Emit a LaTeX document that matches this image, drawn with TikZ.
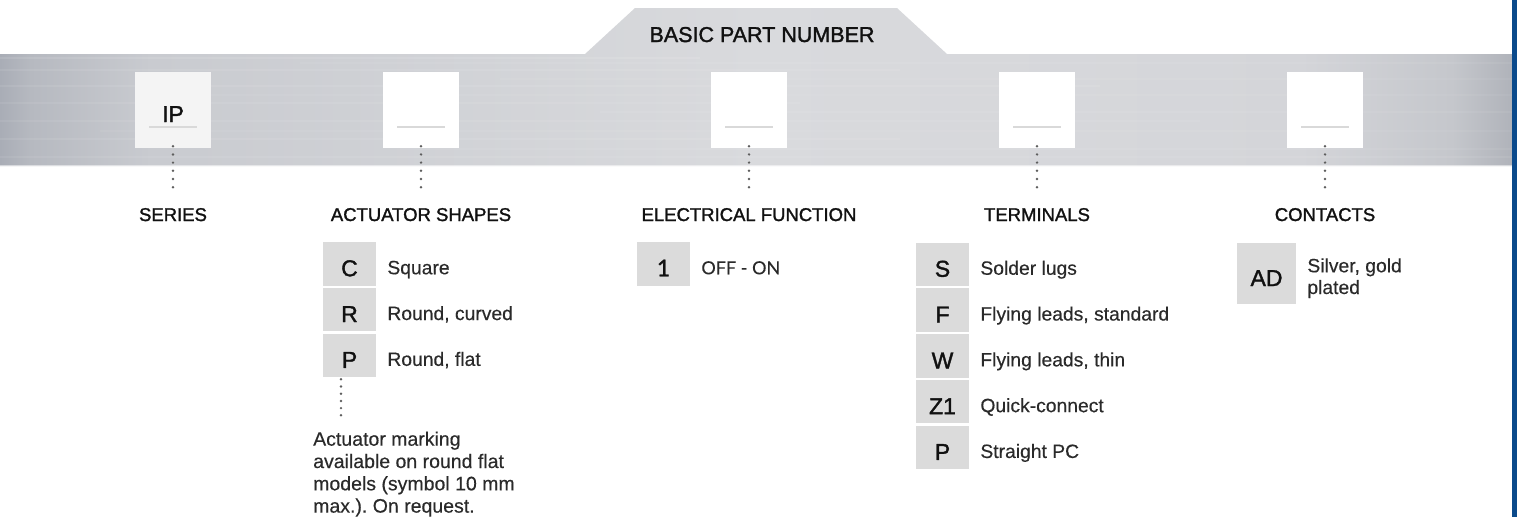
\documentclass[tikz,border=0pt]{standalone}
\usepackage{fontspec}
\setmainfont{Liberation Sans}
\newfontfamily\medsans[FakeBold=1.5]{Liberation Sans}
\newfontfamily\descsans[FakeBold=0.35]{Liberation Sans}
\newfontfamily\latofont[FakeBold=1.2]{Lato}
\newfontfamily\latodesc[FakeBold=0.3]{Lato}
\frenchspacing
\definecolor{m0}{HTML}{A9ADB6}
\definecolor{m1}{HTML}{B6B9C0}
\definecolor{m2}{HTML}{C9CBD0}
\definecolor{m3}{HTML}{D9DADD}
\definecolor{m4}{HTML}{D4D5D9}
\definecolor{m5}{HTML}{C5C7CC}
\definecolor{m6}{HTML}{B0B3BA}
\definecolor{itembox}{HTML}{DBDBDB}
\definecolor{dotc}{HTML}{5E5E5E}
\definecolor{desctext}{HTML}{2A2A2A}
\definecolor{ink}{HTML}{111111}
\definecolor{bluebar}{HTML}{0B4A8B}
\definecolor{ipfill}{HTML}{F4F4F4}
\definecolor{ulc}{HTML}{D9D9D9}
\pgfdeclarehorizontalshading{metal}{100bp}{color(0bp)=(m0); color(25bp)=(m0); color(26bp)=(m1); color(30bp)=(m2); color(50bp)=(m3); color(68bp)=(m4); color(73bp)=(m5); color(75bp)=(m6); color(100bp)=(m6)}
\tikzset{
  slotbox/.style={fill=white, minimum width=76pt, minimum height=76pt, inner sep=0pt},
  headtxt/.style={anchor=base, font=\medsans\fontsize{18.5}{22}\selectfont, text=ink, inner xsep=0pt, inner ysep=13pt, text height=13.3pt, text depth=0pt},
  optbox/.style={fill=itembox, minimum width=53pt, minimum height=43.5pt, inner sep=0pt, text height=25pt, text depth=0pt, font=\medsans\fontsize{23}{26}\selectfont, text=ink},
  desctxt/.style={anchor=base west, inner sep=0pt, font=\descsans\fontsize{19.3}{22.3}\selectfont, text=desctext},
  dotline/.style={draw=dotc, line width=2.7pt, line cap=round, dash pattern=on 0pt off 8.2pt},
  uline/.style={draw=ulc, line width=2.2pt}
}
\newcommand{\partslot}[2]{%
  \node[slotbox] (#1) at (#2,110) {};
  \draw[uline] ([xshift=-24pt,yshift=-17pt]#1.center) -- ([xshift=24pt,yshift=-17pt]#1.center);
}
\begin{document}
\begin{tikzpicture}[x=1pt,y=-1pt]
\useasboundingbox (0,0) rectangle (1517,517);
% metallic band with tab
\shade[shading=metal] (0,54) -- (585,54) -- (635,8) -- (897,8) -- (947,54) -- (1512,54) -- (1512,166) -- (0,166) -- cycle;
\foreach \xa/\xb/\yy/\op in {0/700/58/0.10, 300/1512/63/0.06, 0/900/70/0.08, 500/1512/79/0.05, 0/1100/86/0.08, 200/1512/95/0.05, 0/800/103/0.07, 600/1512/112/0.06, 0/1200/121/0.07, 100/1512/131/0.05, 0/900/139/0.08, 400/1512/149/0.06, 0/1512/157/0.07}
  \draw[white, opacity=\op, line width=1.2pt] (\xa,\yy) -- (\xb,\yy);
\draw[white, opacity=0.5, line width=1pt] (0,165.5) -- (1512,165.5);
\node[anchor=base, inner sep=0pt, font=\medsans\fontsize{21.5}{26}\selectfont, text=ink] (bpn) at (762,42) {BASIC PART NUMBER};
% blue bar
\fill[bluebar] (1512,0) rectangle (1517,517);
% slots
\node[slotbox, fill=ipfill] (s1) at (173,110) {};
\draw[uline] ([xshift=-24pt,yshift=-17pt]s1.center) -- ([xshift=24pt,yshift=-17pt]s1.center);
\node[anchor=base, inner sep=0pt, font=\medsans\fontsize{23}{26}\selectfont, text=ink] (ipt) at (173,122) {IP};
\partslot{s2}{421}
\partslot{s3}{749}
\partslot{s4}{1037}
\partslot{s5}{1325}
% headings
\node[headtxt] (h1) at (173,221) {SERIES};
\node[headtxt] (h2) at (421,221) {ACTUATOR SHAPES};
\node[headtxt] (h3) at (749,221) {ELECTRICAL FUNCTION};
\node[headtxt] (h4) at (1037,221) {TERMINALS};
\node[headtxt] (h5) at (1325,221) {CONTACTS};
\foreach \i in {1,...,5}
  \draw[dotline] ([yshift=2pt]s\i.south) -- (h\i.north);
% actuator shapes
\node[optbox] (a1) at (349.5,263.75) {C};
\node[optbox] (a2) at (349.5,309.55) {R};
\node[optbox] (a3) at (349.5,355.35) {P};
\node[desctxt] (ad1) at ([xshift=11pt,yshift=-10.5pt]a1.east) {Square};
\node[desctxt] (ad2) at ([xshift=11pt,yshift=-10.5pt]a2.east) {Round, curved};
\node[desctxt] (ad3) at ([xshift=11pt,yshift=-10.5pt]a3.east) {Round, flat};
\node[desctxt, font=\descsans\fontsize{19.5}{22.3}\selectfont] (note) at (313,445.7)
  {\vtop{\hbox{Actuator marking}\hbox{available on round flat}\hbox{models (symbol 10 mm}\hbox{max.). On request.}}};
\coordinate (nt) at (341,421);
\draw[dotline, dash pattern=on 0pt off 7.2pt] (nt |- a3.south) ++(0,2) -- (nt);
% electrical function
\node[optbox, font=\latofont\fontsize{23}{26}\selectfont] (e1) at (663.5,263.75) {1};
\node[desctxt, font=\latodesc\fontsize{18}{22}\selectfont] (ed1) at ([xshift=11pt,yshift=-10.5pt]e1.east) {OFF - ON};
% terminals
\node[optbox] (t1) at (942.5,264.25) {S};
\node[optbox] (t2) at (942.5,310.05) {F};
\node[optbox] (t3) at (942.5,355.85) {W};
\node[optbox] (t4) at (942.5,401.65) {Z1};
\node[optbox] (t5) at (942.5,447.45) {P};
\node[desctxt] (td1) at ([xshift=11pt,yshift=-10.5pt]t1.east) {Solder lugs};
\node[desctxt] (td2) at ([xshift=11pt,yshift=-10.5pt]t2.east) {Flying leads, standard};
\node[desctxt] (td3) at ([xshift=11pt,yshift=-10.5pt]t3.east) {Flying leads, thin};
\node[desctxt] (td4) at ([xshift=11pt,yshift=-10.5pt]t4.east) {Quick-connect};
\node[desctxt] (td5) at ([xshift=11pt,yshift=-10.5pt]t5.east) {Straight PC};
% contacts
\node[optbox, minimum width=59pt, minimum height=61pt] (c1) at (1266.5,273.5) {AD};
\node[desctxt, font=\descsans\fontsize{19.3}{21.7}\selectfont] (cd1) at ([xshift=11pt,yshift=1.2pt]c1.east)
  {\vtop{\hbox{Silver, gold}\hbox{plated}}};
\end{tikzpicture}
\end{document}
